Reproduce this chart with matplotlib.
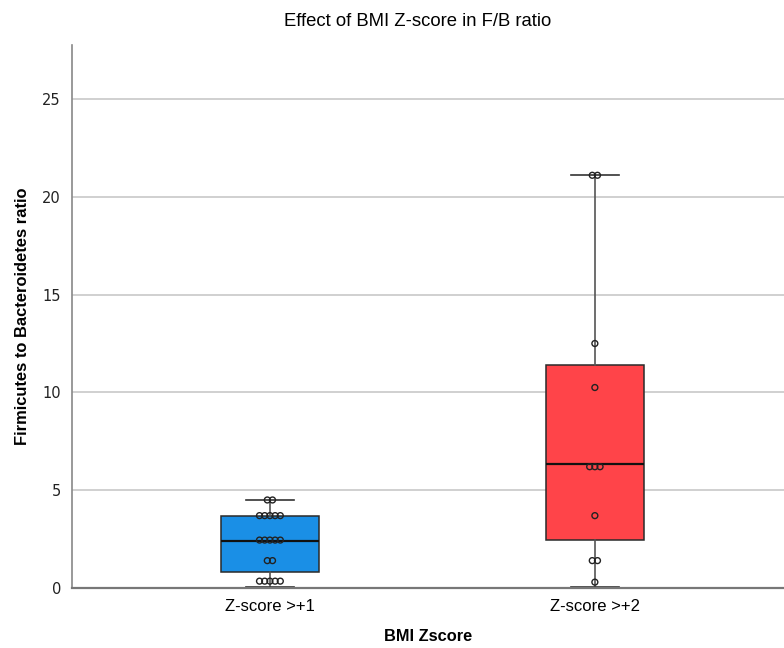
import matplotlib.pyplot as plt
from collections import Counter

grupos = ["Z-score >+1", "Z-score >+2"]
cores = ["#1a8fe6", "#ff4449"]

# pontos individuais
pontos_z1 = [4.5, 4.5, 3.7, 3.7, 3.7, 3.7, 3.7, 2.45, 2.45, 2.45, 2.45, 2.45,
             1.4, 1.4, 0.35, 0.35, 0.35, 0.35, 0.35]
pontos_z2 = [21.1, 21.1, 12.5, 10.25, 6.2, 6.2, 6.2, 3.7, 1.4, 1.4, 0.3]

# estatisticas do boxplot
minimos = [0.07, 0.07]
q1s = [0.83, 2.45]
medianas = [2.42, 6.36]
q3s = [3.7, 11.4]
maximos = [4.5, 21.1]

fig = plt.figure(figsize=(7.84, 6.48), dpi=100)
ax = fig.add_axes([72 / 784, 1 - 588 / 648, 1 - 72 / 784, (588 - 45) / 648])

stats = []
for i in range(2):
    stats.append(dict(whislo=minimos[i], q1=q1s[i], med=medianas[i],
                      q3=q3s[i], whishi=maximos[i], fliers=[]))

bp = ax.bxp(stats, positions=[1, 2], widths=0.30, capwidths=0.148,
            patch_artist=True, showfliers=False,
            boxprops=dict(edgecolor="#2a2a2a", linewidth=1.1),
            whiskerprops=dict(color="#555555", linewidth=1.2),
            capprops=dict(color="#333333", linewidth=1.2),
            medianprops=dict(color="#111111", linewidth=1.6))
for caixa, cor in zip(bp["boxes"], cores):
    caixa.set_facecolor(cor)

# pontos lado a lado quando o valor se repete
passo = 0.016
for pos, pontos in zip([1, 2], [pontos_z1, pontos_z2]):
    contagem = Counter(pontos)
    xs, ys = [], []
    for valor, n in contagem.items():
        for k in range(n):
            xs.append(pos + (k - (n - 1) / 2) * passo)
            ys.append(valor)
    ax.scatter(xs, ys, s=18, facecolors="none", edgecolors="#222222",
               linewidths=1.0, zorder=5)

ax.set_xlim(0.391, 2.582)
ax.set_ylim(0, 27.76)
ax.set_yticks([0, 5, 10, 15, 20, 25])
ax.set_xticks([1, 2])
ax.set_xticklabels(grupos, fontsize=12, family="Liberation Sans")
ax.tick_params(axis="both", length=0)
ax.tick_params(axis="y", labelsize=10.5, labelcolor="#222222", pad=8)
ax.tick_params(axis="x", pad=8)

ax.grid(axis="y", color="#c8c8c8", linewidth=1.2)
ax.set_axisbelow(True)
for lado in ["top", "right"]:
    ax.spines[lado].set_visible(False)
ax.spines["left"].set_color("#888888")
ax.spines["left"].set_linewidth(1.2)
ax.spines["bottom"].set_color("#777777")
ax.spines["bottom"].set_linewidth(1.6)

ax.set_title("Effect of BMI Z-score in F/B ratio", fontsize=13.3,
             family="Liberation Sans", pad=13.5, x=0.486)
ax.set_xlabel("BMI Zscore", fontsize=11.8, fontweight="bold",
              family="Liberation Sans", labelpad=10.5)
ax.set_ylabel("Firmicutes to Bacteroidetes ratio", fontsize=11.9,
              fontweight="bold", family="Liberation Sans", labelpad=9)

fig.savefig("out.png", dpi=100)
